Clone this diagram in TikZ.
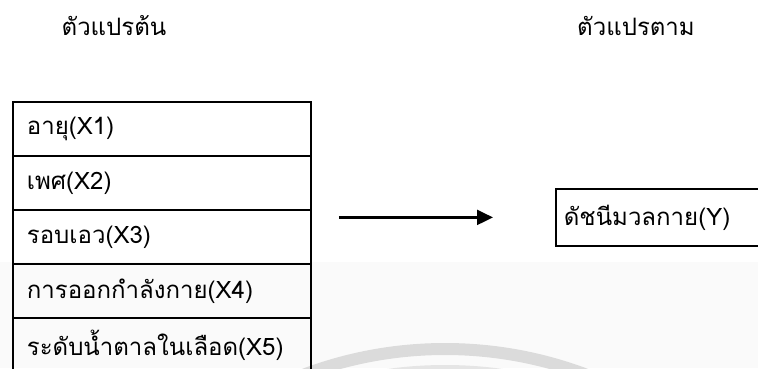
\documentclass[tikz,border=0pt]{standalone}
\usepackage{fontspec}
\newfontfamily\thaifont[Script=Thai]{Loma}
\usetikzlibrary{arrows.meta,calc}
\begin{document}
\begin{tikzpicture}[x=1pt,y=-1pt,
  every node/.style={font=\thaifont\fontsize{24}{28}\selectfont, text=black},
  rowbox/.style={draw, line width=1.8pt, anchor=north west, minimum height=54pt,
    text width=270pt, inner xsep=14pt, align=left},
  ybox/.style={draw, line width=1.8pt, anchor=north west, minimum height=57pt,
    text width=200pt, inner xsep=8pt, align=left},
  title/.style={inner sep=0pt},
  conn/.style={line width=2.2pt, -{Triangle[length=16pt,width=15pt]}}]
\useasboundingbox (0,0) rectangle (758,368);
% faint watermark background
\fill[black!2] (0,262) rectangle (758,368);
\begin{scope}
\clip (0,0) rectangle (758,368);
\draw[black!14, line width=12pt] (445,749) circle[radius=400];
\draw[black!10, line width=10pt] (445,780) circle[radius=410];
\end{scope}
\node[title] (t1) at (114,26) {ตัวแปรต้น};
\node[title] (t2) at (636,26) {ตัวแปรตาม};
\node[rowbox] (x1) at (12,101) {อายุ(X1)};
\node[rowbox] (x2) at (12,155) {เพศ(X2)};
\node[rowbox] (x3) at (12,209) {รอบเอว(X3)};
\node[rowbox] (x4) at (12,263) {การออกกำลังกาย(X4)};
\node[rowbox] (x5) at (12,317) {ระดับน้ำตาลในเลือด(X5)};
\node[ybox] (y) at (555,188) {ดัชนีมวลกาย(Y)};
\draw[conn, shorten <=27pt, shorten >=62pt] (y.west -| x3.east) -- (y.west);
\end{tikzpicture}
\end{document}
